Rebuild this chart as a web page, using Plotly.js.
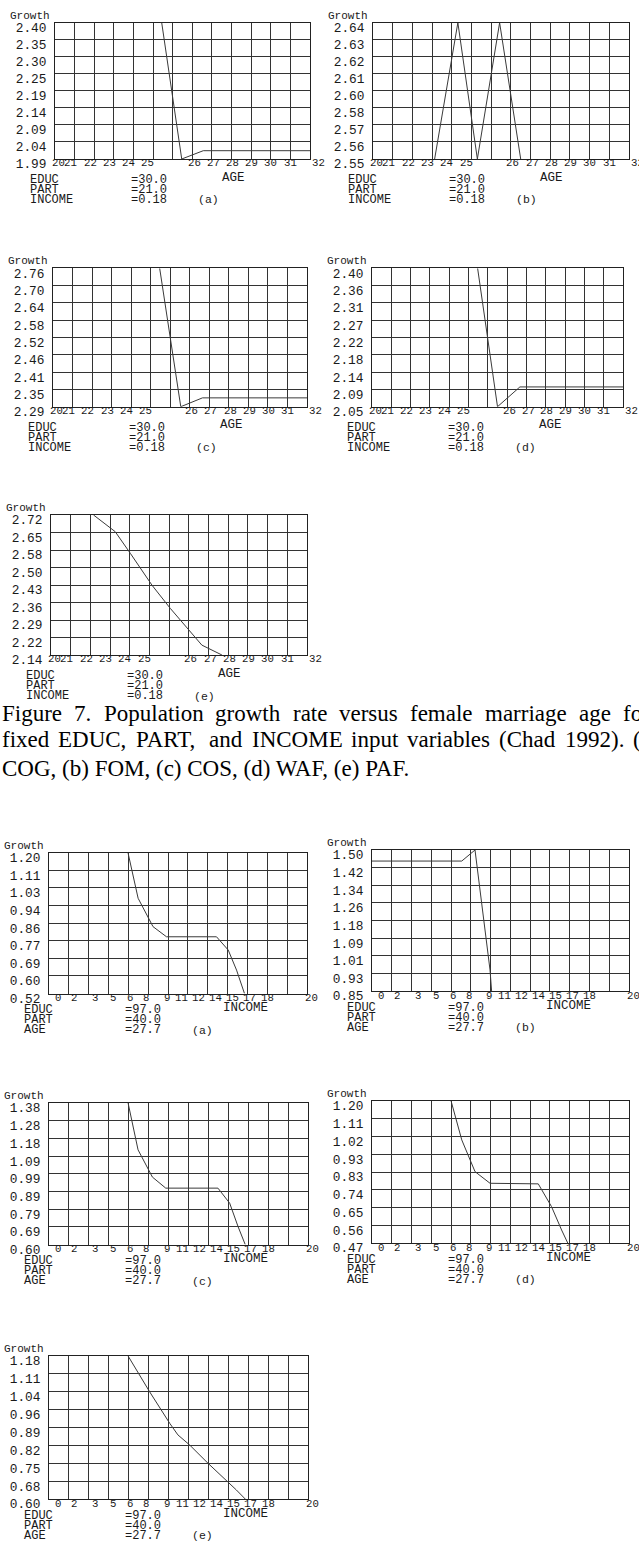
<!DOCTYPE html>
<html><head><meta charset="utf-8">
<script src="https://cdn.plot.ly/plotly-3.0.1.min.js"></script>
<style>html,body{margin:0;padding:0;background:#fff}#chart{width:639px;height:1548px}</style>
</head><body><div id="chart"></div>
<script>
// ---------- DATA ----------
// Horizontal positions are measured along each panel's own axis, in grid columns (0..13).
const ageTickText = ["20","21","22","23","24","25","26","27","28","29","30","31","32"];
const ageTickAt   = [0.16,0.81,1.79,2.77,3.75,4.73,7.10,8.08,9.06,10.04,11.01,12.0,13.42];
const incomeTickText = ["0","2","3","5","6","8","9","11","12","14","15","17","18","20"];
const incomeTickAt   = [0.45,1.26,2.32,3.22,4.08,4.89,5.93,6.69,7.54,8.40,9.27,10.12,11.02,13.25];

// Figure 7: growth vs female marriage age
const cogAgeYLabels = ["2.40","2.35","2.30","2.25","2.19","2.14","2.09","2.04","1.99"];
const cogAgeX = [5.44,6.46,7.56,13];
const cogAgeY = [2.40,1.99,2.015,2.015];

const fomAgeYLabels = ["2.64","2.63","2.62","2.61","2.60","2.58","2.57","2.56","2.55"];
const fomAgeX = [3.13,4.31,5.3,6.43,7.5];
const fomAgeY = [2.55,2.64,2.55,2.64,2.55];

const cosAgeYLabels = ["2.76","2.70","2.64","2.58","2.52","2.46","2.41","2.35","2.29"];
const cosAgeX = [5.46,6.54,7.65,13];
const cosAgeY = [2.76,2.29,2.32,2.32];

const wafAgeYLabels = ["2.40","2.36","2.31","2.27","2.22","2.18","2.14","2.09","2.05"];
const wafAgeX = [5.47,6.5,7.66,13];
const wafAgeY = [2.40,2.05,2.10,2.10];

const pafAgeYLabels = ["2.72","2.65","2.58","2.50","2.43","2.36","2.29","2.22","2.14"];
const pafAgeX = [2.16,3.26,4.03,5.13,6.06,7.07,7.66,8.68];
const pafAgeY = [2.72,2.651,2.561,2.429,2.333,2.237,2.181,2.14];

// Figure 8: growth vs income
const cogIncYLabels = ["1.20","1.11","1.03","0.94","0.86","0.77","0.69","0.60","0.52"];
const cogIncX = [3.98,4.49,5.24,5.92,8.44,9.03,9.45,9.85];
const cogIncY = [1.20,0.98,0.843,0.794,0.794,0.73,0.633,0.52];

const fomIncYLabels = ["1.50","1.42","1.34","1.26","1.18","1.09","1.01","0.93","0.85"];
const fomIncX = [0,4.54,5.21,5.97,6.05];
const fomIncY = [1.449,1.449,1.50,0.947,0.85];

const cosIncYLabels = ["1.38","1.28","1.18","1.09","0.99","0.89","0.79","0.69","0.60"];
const cosIncX = [3.97,4.47,5.19,5.86,8.48,9.07,9.49,9.85];
const cosIncY = [1.38,1.122,0.972,0.911,0.911,0.828,0.699,0.60];

const wafIncYLabels = ["1.20","1.11","1.02","0.93","0.83","0.74","0.65","0.56","0.47"];
const wafIncX = [4.0,4.54,5.21,5.97,8.41,9.08,9.59,9.9];
const wafIncY = [1.20,1.0,0.837,0.777,0.774,0.657,0.537,0.47];

const pafIncYLabels = ["1.18","1.11","1.04","0.96","0.89","0.82","0.75","0.68","0.60"];
const pafIncX = [3.97,5.05,6.06,6.47,7.06,7.98,9.40,9.85];
const pafIncY = [1.18,1.035,0.907,0.860,0.819,0.745,0.637,0.60];

const ageFixedNames = ["EDUC","PART","INCOME"];
const ageFixedVals  = ["=30.0","=21.0","=0.18"];
const incFixedNames = ["EDUC","PART","AGE"];
const incFixedVals  = ["=97.0","=40.0","=27.7"];
const panelTags = ["(a)","(b)","(c)","(d)","(e)"];

const captionLine1 = ["Figure","7.","Population","growth","rate","versus","female","marriage","age","for"];
const captionLine2 = ["fixed","EDUC,","PART,","and","INCOME","input","variables","(Chad","1992).","(a)"];
const captionLine3 = "COG, (b) FOM, (c) COS, (d) WAF, (e) PAF.";

// ---------- LAYOUT ----------
const W = 639, H = 1548;
const MONO = "Liberation Mono, Courier New, monospace";
const SERIF = "Liberation Serif, Times New Roman, serif";
const INK = "#1a1a1a";

const panels = [
  {kind:"age", box:[55,22.7,310,159],    x:cogAgeX, y:cogAgeY, yl:cogAgeYLabels, tag:0},
  {kind:"age", box:[373,22.7,629,159],   x:fomAgeX, y:fomAgeY, yl:fomAgeYLabels, tag:1},
  {kind:"age", box:[53,268.3,307,406.7], x:cosAgeX, y:cosAgeY, yl:cosAgeYLabels, tag:2},
  {kind:"age", box:[372,268.3,623,406.7],x:wafAgeX, y:wafAgeY, yl:wafAgeYLabels, tag:3},
  {kind:"age", box:[51,515,307,655],     x:pafAgeX, y:pafAgeY, yl:pafAgeYLabels, tag:4},
  {kind:"inc", box:[49,852.7,307,993.5], x:cogIncX, y:cogIncY, yl:cogIncYLabels, tag:0},
  {kind:"inc", box:[372,850,629,991],    x:fomIncX, y:fomIncY, yl:fomIncYLabels, tag:1},
  {kind:"inc", box:[49,1103,308,1244.6], x:cosIncX, y:cosIncY, yl:cosIncYLabels, tag:2},
  {kind:"inc", box:[372,1101,629,1243],  x:wafIncX, y:wafIncY, yl:wafIncYLabels, tag:3},
  {kind:"inc", box:[49,1356,308,1499],   x:pafIncX, y:pafIncY, yl:pafIncYLabels, tag:4}
];

const px = v => v / W;
const py = v => 1 - v / H;

const traces = [];
const layout = {
  width: W, height: H,
  margin: {l:0, r:0, t:0, b:0},
  paper_bgcolor: "#fff", plot_bgcolor: "#fff",
  showlegend: false,
  annotations: [],
  font: {family: MONO, color: INK}
};

panels.forEach((p, i) => {
  const n = i === 0 ? "" : String(i + 1);
  const [L, T, R, B] = p.box;
  const colW = (R - L) / 13;
  const yMax = parseFloat(p.yl[0]), yMin = parseFloat(p.yl[p.yl.length - 1]);
  const yVals = p.yl.map((_, k) => yMax - k * (yMax - yMin) / (p.yl.length - 1));

  traces.push({
    type: "scatter", mode: "lines", x: p.x, y: p.y,
    xaxis: "x" + n, yaxis: "y" + n,
    line: {color: "#3a3a3a", width: 1}, hoverinfo: "skip"
  });

  layout["xaxis" + n] = {
    domain: [px(L), px(R)], anchor: "y" + n, range: [0, 13],
    tick0: 0, dtick: 1, showticklabels: false, ticks: "",
    showgrid: true, gridcolor: "#333", gridwidth: 1,
    showline: true, mirror: true, linecolor: "#222", linewidth: 1,
    zeroline: false, fixedrange: true
  };
  layout["yaxis" + n] = {
    domain: [py(B), py(T)], anchor: "x" + n, range: [yMin, yMax],
    tickmode: "array", tickvals: yVals, ticktext: p.yl,
    ticks: "", ticklabelstandoff: 5, ticklabelshift: 5,
    tickfont: {family: MONO, size: 12.8, color: INK},
    showgrid: true, gridcolor: "#333", gridwidth: 1,
    showline: true, mirror: true, linecolor: "#222", linewidth: 1,
    zeroline: false, fixedrange: true
  };

  const A = layout.annotations;
  A.push({xref:"paper", yref:"paper", x: px(L - 3), y: py(T - 7), xanchor:"right", yanchor:"middle",
          text:"Growth", showarrow:false, font:{family:MONO, size:11, color:INK}});
  // x tick labels (placed along the axis by column position)
  const tt = p.kind === "age" ? ageTickText : incomeTickText;
  const ta = p.kind === "age" ? ageTickAt : incomeTickAt;
  const tickY = B + 4.5;
  tt.forEach((t, k) => A.push({xref:"paper", yref:"paper", x: px(L + ta[k] * colW), y: py(tickY),
          xanchor:"center", yanchor:"middle", text:t, showarrow:false,
          font:{family:MONO, size:10.7, color:INK}}));
  if (p.kind === "age") {
    A.push({xref:"paper", yref:"paper", x: px(L + 178), y: py(B + 18.5), xanchor:"center", yanchor:"middle",
            text:"AGE", showarrow:false, font:{family:MONO, size:12.5, color:INK}});
  } else {
    A.push({xref:"paper", yref:"paper", x: px(L + 196), y: py(B + 14.5), xanchor:"center", yanchor:"middle",
            text:"INCOME", showarrow:false, font:{family:MONO, size:12.5, color:INK}});
  }
  const names = p.kind === "age" ? ageFixedNames : incFixedNames;
  const vals  = p.kind === "age" ? ageFixedVals : incFixedVals;
  const rowY = p.kind === "age" ? [B + 21, B + 31, B + 41] : [B + 16.5, B + 26.5, B + 36.5];
  names.forEach((nm, k) => {
    A.push({xref:"paper", yref:"paper", x: px(L - 27), y: py(rowY[k]), xanchor:"left", yanchor:"middle",
            text:nm, showarrow:false, font:{family:MONO, size:12, color:INK}});
    A.push({xref:"paper", yref:"paper", x: px(L + 74), y: py(rowY[k]), xanchor:"left", yanchor:"middle",
            text:vals[k], showarrow:false, font:{family:MONO, size:12, color:INK}});
  });
  A.push({xref:"paper", yref:"paper", x: px(L + 153), y: py(rowY[2]), xanchor:"center", yanchor:"middle",
          text:panelTags[p.tag], showarrow:false, font:{family:MONO, size:11.5, color:INK}});
});

// caption, first two lines justified word by word
const capFont = {family:SERIF, size:23, color:"#000"};
const cap1X = [0, 72, 102, 213, 291, 337, 408, 483, 577, 621];
const cap2X = [0, 56, 134, 207, 250, 349, 405, 497, 563, 631];
captionLine1.forEach((w, k) => layout.annotations.push({
  xref:"paper", yref:"paper", x: px(cap1X[k]), y: py(713), xanchor:"left", yanchor:"middle",
  text:w, showarrow:false, font:capFont}));
captionLine2.forEach((w, k) => layout.annotations.push({
  xref:"paper", yref:"paper", x: px(cap2X[k]), y: py(739), xanchor:"left", yanchor:"middle",
  text:w, showarrow:false, font:capFont}));
layout.annotations.push({xref:"paper", yref:"paper", x: 0, y: py(768), xanchor:"left", yanchor:"middle",
  text:captionLine3, showarrow:false, font:capFont});

Plotly.newPlot("chart", traces, layout, {staticPlot: true, displayModeBar: false});
</script>
</body></html>
